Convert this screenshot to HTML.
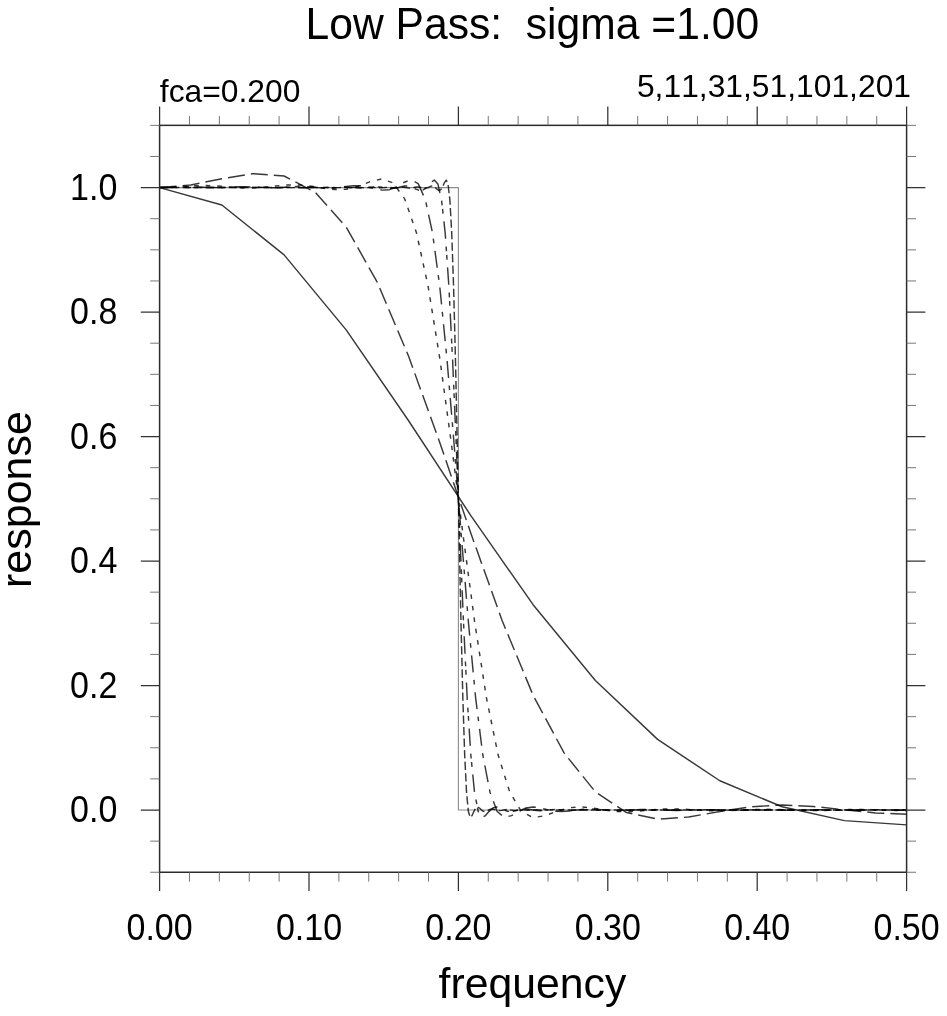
<!DOCTYPE html>
<html lang="en"><head><meta charset="utf-8"><title>Low Pass: sigma =1.00</title>
<style>html,body{margin:0;padding:0;background:#fff}svg{display:block}text{font-kerning:none;font-feature-settings:"kern" 0,"liga" 0}</style>
</head><body>
<svg width="947" height="1016" viewBox="0 0 947 1016">
<rect width="947" height="1016" fill="#fff"/>
<polyline fill="none" stroke-linejoin="round" stroke="#8c8c8c" stroke-width="1.1" points="159.60,187.59 458.40,187.59 458.40,810.01 906.60,810.01"/>
<g fill="none" stroke="#000" stroke-width="1.45" stroke-opacity="0.78" stroke-linejoin="round" stroke-linecap="butt">
<polyline points="159.60,187.59 221.85,205.04 284.10,254.90 346.35,330.15 408.60,420.76 470.85,515.63 533.10,604.69 595.35,680.57 657.60,739.40 719.85,780.77 782.10,806.79 844.35,820.60 906.60,824.87"/>
<polyline stroke-dasharray="17.039 6.043" points="159.60,187.59 190.72,184.95 221.85,178.72 252.97,173.60 284.10,175.99 315.23,192.35 346.35,227.38 377.48,282.70 408.60,356.23 439.73,442.42 470.85,533.32 501.98,620.19 533.10,695.26 564.23,753.17 595.35,791.85 626.48,812.54 657.60,819.16 688.73,817.03 719.85,811.51 750.98,806.76 782.10,805.02 813.23,806.47 844.35,809.77 875.48,812.91 906.60,814.17"/>
<polyline stroke-dasharray="4.576 6.964" points="159.60,187.59 171.27,187.27 182.94,186.51 194.62,185.78 206.29,185.55 217.96,186.01 229.63,186.91 241.30,187.70 252.97,187.85 264.65,187.15 276.32,185.93 287.99,184.93 299.66,184.91 311.33,186.16 323.01,188.15 334.68,189.65 346.35,189.27 358.02,186.35 369.69,181.90 381.37,179.05 393.04,182.80 404.71,198.94 416.38,232.48 428.05,285.90 439.73,358.02 451.40,443.76 463.07,535.00 474.74,622.43 486.41,697.60 498.08,754.82 509.76,792.21 521.43,811.61 533.10,817.57 544.77,815.77 556.44,811.38 568.12,807.90 579.79,806.81 591.46,807.83 603.13,809.77 614.80,811.34 626.48,811.81 638.15,811.18 649.82,810.04 661.49,809.09 673.16,808.81 684.83,809.23 696.51,810.02 708.18,810.70 719.85,810.91 731.52,810.59 743.19,809.99 754.87,809.45 766.54,809.28 778.21,809.52 789.88,810.03 801.55,810.49 813.23,810.65 824.90,810.44 836.57,810.00 848.24,809.58 859.91,809.42 871.58,809.60 883.26,810.01 894.93,810.42 906.60,810.58"/>
<polyline stroke-dasharray="17.014 7.506 4.704 7.706" points="159.60,187.59 166.78,187.47 173.97,187.19 181.15,186.91 188.33,186.81 195.51,186.95 202.70,187.26 209.88,187.54 217.06,187.63 224.24,187.45 231.43,187.11 238.61,186.80 245.79,186.73 252.97,186.95 260.16,187.36 267.34,187.71 274.52,187.77 281.71,187.47 288.89,186.95 296.07,186.53 303.25,186.49 310.44,186.92 317.62,187.63 324.80,188.18 331.98,188.18 339.17,187.50 346.35,186.44 353.53,185.64 360.72,185.74 367.90,186.96 375.08,188.82 382.26,190.15 389.45,189.67 396.63,186.78 403.81,182.46 410.99,179.76 418.18,183.59 425.36,199.69 432.54,233.08 439.73,286.32 446.91,358.29 454.09,443.97 461.27,535.24 468.46,622.70 475.64,697.86 482.82,755.01 490.00,792.26 497.19,811.52 504.37,817.41 511.55,815.64 518.73,811.35 525.92,807.99 533.10,806.96 540.28,807.96 547.47,809.80 554.65,811.25 561.83,811.65 569.01,811.06 576.20,810.02 583.38,809.18 590.56,808.97 597.74,809.36 604.93,810.04 612.11,810.60 619.29,810.74 626.48,810.46 633.66,809.97 640.84,809.56 648.02,809.46 655.21,809.67 662.39,810.05 669.57,810.36 676.75,810.45 683.94,810.28 691.12,809.97 698.30,809.72 705.48,809.64 712.67,809.78 719.85,810.04 727.03,810.26 734.22,810.32 741.40,810.21 748.58,809.99 755.76,809.79 762.95,809.73 770.13,809.83 777.31,810.03 784.49,810.20 791.68,810.26 798.86,810.17 806.04,810.00 813.23,809.83 820.41,809.77 827.59,809.85 834.77,810.02 841.96,810.17 849.14,810.23 856.32,810.16 863.50,810.00 870.69,809.85 877.87,809.79 885.05,809.86 892.23,810.01 899.42,810.16 906.60,810.22"/>
<polyline stroke-dasharray="17.431 7.764 4.809 3.606 4.809 7.744" points="159.60,187.59 163.26,187.56 166.92,187.49 170.59,187.41 174.25,187.39 177.91,187.42 181.57,187.49 185.23,187.57 188.89,187.59 192.56,187.56 196.22,187.48 199.88,187.41 203.54,187.38 207.20,187.42 210.86,187.50 214.53,187.58 218.19,187.60 221.85,187.56 225.51,187.47 229.17,187.39 232.84,187.37 236.50,187.42 240.16,187.51 243.82,187.60 247.48,187.62 251.14,187.56 254.81,187.46 258.47,187.37 262.13,187.35 265.79,187.41 269.45,187.53 273.11,187.63 276.78,187.64 280.44,187.57 284.10,187.44 287.76,187.33 291.42,187.31 295.09,187.40 298.75,187.55 302.41,187.67 306.07,187.69 309.73,187.58 313.39,187.41 317.06,187.27 320.72,187.25 324.38,187.38 328.04,187.59 331.70,187.76 335.36,187.77 339.03,187.61 342.69,187.35 346.35,187.14 350.01,187.13 353.67,187.35 357.34,187.68 361.00,187.94 364.66,187.95 368.32,187.65 371.98,187.20 375.64,186.86 379.31,186.87 382.97,187.30 386.63,187.94 390.29,188.42 393.95,188.37 397.61,187.71 401.28,186.71 404.94,185.97 408.60,186.11 412.26,187.32 415.92,189.12 419.59,190.39 423.25,189.87 426.91,186.99 430.57,182.73 434.23,180.09 437.89,183.95 441.56,200.03 445.22,233.36 448.88,286.51 452.54,358.43 456.20,444.07 459.86,535.35 463.53,622.83 467.19,697.99 470.85,755.09 474.51,792.28 478.17,811.48 481.84,817.34 485.50,815.58 489.16,811.34 492.82,808.03 496.48,807.03 500.14,808.02 503.81,809.81 507.47,811.21 511.13,811.59 514.79,811.00 518.45,810.01 522.11,809.23 525.78,809.03 529.44,809.42 533.10,810.05 536.76,810.56 540.42,810.67 544.09,810.40 547.75,809.96 551.41,809.60 555.07,809.53 558.73,809.73 562.39,810.06 566.06,810.32 569.72,810.38 573.38,810.22 577.04,809.96 580.70,809.76 584.36,809.72 588.03,809.84 591.69,810.05 595.35,810.21 599.01,810.25 602.67,810.15 606.34,809.98 610.00,809.84 613.66,809.81 617.32,809.89 620.98,810.04 624.64,810.15 628.31,810.18 631.97,810.11 635.63,809.98 639.29,809.88 642.95,809.86 646.61,809.92 650.28,810.03 653.94,810.12 657.60,810.14 661.26,810.08 664.92,809.99 668.59,809.91 672.25,809.89 675.91,809.94 679.57,810.02 683.23,810.10 686.89,810.11 690.56,810.07 694.22,809.99 697.88,809.93 701.54,809.91 705.20,809.95 708.86,810.02 712.53,810.08 716.19,810.10 719.85,810.06 723.51,810.00 727.17,809.94 730.84,809.93 734.50,809.96 738.16,810.02 741.82,810.07 745.48,810.09 749.14,810.06 752.81,810.00 756.47,809.95 760.13,809.94 763.79,809.96 767.45,810.02 771.11,810.06 774.78,810.08 778.44,810.05 782.10,810.00 785.76,809.96 789.42,809.94 793.09,809.97 796.75,810.01 800.41,810.06 804.07,810.07 807.73,810.05 811.39,810.00 815.06,809.96 818.72,809.95 822.38,809.97 826.04,810.01 829.70,810.05 833.36,810.07 837.03,810.05 840.69,810.01 844.35,809.97 848.01,809.95 851.67,809.97 855.34,810.01 859.00,810.05 862.66,810.07 866.32,810.05 869.98,810.01 873.64,809.97 877.31,809.95 880.97,809.97 884.63,810.01 888.29,810.05 891.95,810.06 895.61,810.05 899.28,810.01 902.94,809.97 906.60,809.95"/>
<polyline stroke-dasharray="8.293 3.247" points="159.60,187.59 161.45,187.58 163.30,187.56 165.15,187.55 167.00,187.54 168.85,187.55 170.69,187.57 172.54,187.58 174.39,187.59 176.24,187.58 178.09,187.56 179.94,187.55 181.79,187.54 183.64,187.55 185.49,187.57 187.34,187.59 189.18,187.59 191.03,187.58 192.88,187.56 194.73,187.54 196.58,187.54 198.43,187.55 200.28,187.57 202.13,187.59 203.98,187.59 205.83,187.58 207.67,187.56 209.52,187.54 211.37,187.54 213.22,187.55 215.07,187.57 216.92,187.59 218.77,187.59 220.62,187.58 222.47,187.56 224.32,187.54 226.16,187.53 228.01,187.55 229.86,187.57 231.71,187.59 233.56,187.60 235.41,187.58 237.26,187.56 239.11,187.54 240.96,187.53 242.81,187.55 244.65,187.57 246.50,187.59 248.35,187.60 250.20,187.58 252.05,187.56 253.90,187.54 255.75,187.53 257.60,187.55 259.45,187.57 261.30,187.60 263.14,187.60 264.99,187.59 266.84,187.56 268.69,187.53 270.54,187.53 272.39,187.54 274.24,187.57 276.09,187.60 277.94,187.61 279.79,187.59 281.63,187.55 283.48,187.53 285.33,187.52 287.18,187.54 289.03,187.58 290.88,187.61 292.73,187.61 294.58,187.59 296.43,187.55 298.28,187.52 300.12,187.52 301.97,187.54 303.82,187.58 305.67,187.61 307.52,187.62 309.37,187.59 311.22,187.55 313.07,187.51 314.92,187.51 316.77,187.54 318.61,187.58 320.46,187.62 322.31,187.63 324.16,187.60 326.01,187.54 327.86,187.50 329.71,187.50 331.56,187.53 333.41,187.59 335.26,187.64 337.10,187.64 338.95,187.60 340.80,187.54 342.65,187.48 344.50,187.48 346.35,187.53 348.20,187.60 350.05,187.66 351.90,187.66 353.75,187.61 355.60,187.53 357.44,187.46 359.29,187.45 361.14,187.52 362.99,187.61 364.84,187.69 366.69,187.69 368.54,187.62 370.39,187.51 372.24,187.42 374.09,187.42 375.93,187.50 377.78,187.63 379.63,187.74 381.48,187.74 383.33,187.64 385.18,187.48 387.03,187.36 388.88,187.35 390.73,187.48 392.58,187.68 394.42,187.82 396.27,187.83 398.12,187.66 399.97,187.42 401.82,187.23 403.67,187.23 405.52,187.45 407.37,187.77 409.22,188.01 411.07,188.00 412.91,187.71 414.76,187.28 416.61,186.95 418.46,186.97 420.31,187.39 422.16,188.02 424.01,188.48 425.86,188.43 427.71,187.76 429.56,186.78 431.40,186.06 433.25,186.21 435.10,187.42 436.95,189.20 438.80,190.45 440.65,189.92 442.50,187.05 444.35,182.80 446.20,180.18 448.05,184.05 449.89,200.13 451.74,233.43 453.59,286.57 455.44,358.46 457.29,444.10 459.14,535.38 460.99,622.86 462.84,698.02 464.69,755.12 466.54,792.29 468.38,811.47 470.23,817.32 472.08,815.57 473.93,811.33 475.78,808.04 477.63,807.05 479.48,808.03 481.33,809.81 483.18,811.20 485.03,811.57 486.87,810.99 488.72,810.00 490.57,809.24 492.42,809.05 494.27,809.43 496.12,810.06 497.97,810.54 499.82,810.65 501.67,810.39 503.52,809.95 505.36,809.61 507.21,809.54 509.06,809.74 510.91,810.06 512.76,810.31 514.61,810.36 516.46,810.21 518.31,809.96 520.16,809.77 522.01,809.73 523.85,809.86 525.70,810.05 527.55,810.20 529.40,810.23 531.25,810.13 533.10,809.97 534.95,809.85 536.80,809.83 538.65,809.91 540.50,810.04 542.35,810.14 544.19,810.16 546.04,810.09 547.89,809.98 549.74,809.89 551.59,809.88 553.44,809.94 555.29,810.03 557.14,810.11 558.99,810.12 560.84,810.07 562.68,809.99 564.53,809.92 566.38,809.91 568.23,809.96 570.08,810.03 571.93,810.08 573.78,810.09 575.63,810.06 577.48,809.99 579.33,809.94 581.17,809.93 583.02,809.97 584.87,810.02 586.72,810.07 588.57,810.08 590.42,810.05 592.27,809.99 594.12,809.95 595.97,809.95 597.82,809.97 599.66,810.02 601.51,810.06 603.36,810.07 605.21,810.04 607.06,810.00 608.91,809.96 610.76,809.96 612.61,809.98 614.46,810.02 616.31,810.05 618.15,810.06 620.00,810.03 621.85,810.00 623.70,809.97 625.55,809.96 627.40,809.98 629.25,810.02 631.10,810.04 632.95,810.05 634.80,810.03 636.64,810.00 638.49,809.98 640.34,809.97 642.19,809.99 644.04,810.02 645.89,810.04 647.74,810.04 649.59,810.03 651.44,810.00 653.29,809.98 655.13,809.97 656.98,809.99 658.83,810.01 660.68,810.04 662.53,810.04 664.38,810.03 666.23,810.00 668.08,809.98 669.93,809.98 671.78,809.99 673.62,810.01 675.47,810.03 677.32,810.04 679.17,810.02 681.02,810.00 682.87,809.99 684.72,809.98 686.57,809.99 688.42,810.01 690.27,810.03 692.11,810.03 693.96,810.02 695.81,810.00 697.66,809.99 699.51,809.98 701.36,809.99 703.21,810.01 705.06,810.03 706.91,810.03 708.76,810.02 710.60,810.00 712.45,809.99 714.30,809.99 716.15,809.99 718.00,810.01 719.85,810.03 721.70,810.03 723.55,810.02 725.40,810.01 727.25,809.99 729.10,809.99 730.94,810.00 732.79,810.01 734.64,810.02 736.49,810.03 738.34,810.02 740.19,810.01 742.04,809.99 743.89,809.99 745.74,810.00 747.59,810.01 749.43,810.02 751.28,810.03 753.13,810.02 754.98,810.01 756.83,809.99 758.68,809.99 760.53,810.00 762.38,810.01 764.23,810.02 766.08,810.03 767.92,810.02 769.77,810.01 771.62,809.99 773.47,809.99 775.32,810.00 777.17,810.01 779.02,810.02 780.87,810.03 782.72,810.02 784.57,810.01 786.41,810.00 788.26,809.99 790.11,810.00 791.96,810.01 793.81,810.02 795.66,810.02 797.51,810.02 799.36,810.01 801.21,810.00 803.06,809.99 804.90,810.00 806.75,810.01 808.60,810.02 810.45,810.02 812.30,810.02 814.15,810.01 816.00,810.00 817.85,809.99 819.70,810.00 821.55,810.01 823.39,810.02 825.24,810.02 827.09,810.02 828.94,810.01 830.79,810.00 832.64,809.99 834.49,810.00 836.34,810.01 838.19,810.02 840.04,810.02 841.88,810.02 843.73,810.01 845.58,810.00 847.43,809.99 849.28,810.00 851.13,810.01 852.98,810.02 854.83,810.02 856.68,810.02 858.53,810.01 860.37,810.00 862.22,809.99 864.07,810.00 865.92,810.01 867.77,810.02 869.62,810.02 871.47,810.02 873.32,810.01 875.17,810.00 877.02,809.99 878.86,810.00 880.71,810.01 882.56,810.02 884.41,810.02 886.26,810.02 888.11,810.01 889.96,810.00 891.81,809.99 893.66,810.00 895.51,810.01 897.35,810.02 899.20,810.02 901.05,810.02 902.90,810.01 904.75,810.00 906.60,809.99"/>
</g>
<g fill="none" stroke="#2b2b2b" stroke-width="1.5" stroke-linecap="butt">
<rect x="159.6" y="125.35" width="747.00" height="746.90"/>
<path stroke="#333" stroke-width="1.25" d="M159.60 872.25v18.8M159.60 125.35v-18.8M309.00 872.25v18.8M309.00 125.35v-18.8M458.40 872.25v18.8M458.40 125.35v-18.8M607.80 872.25v18.8M607.80 125.35v-18.8M757.20 872.25v18.8M757.20 125.35v-18.8M906.60 872.25v18.8M906.60 125.35v-18.8M159.6 810.01h-18.8M906.6 810.01h18.8M159.6 685.52h-18.8M906.6 685.52h18.8M159.6 561.04h-18.8M906.6 561.04h18.8M159.6 436.56h-18.8M906.6 436.56h18.8M159.6 312.07h-18.8M906.6 312.07h18.8M159.6 187.59h-18.8M906.6 187.59h18.8"/>
<path stroke="#707070" stroke-width="0.95" d="M189.48 872.25v9.4M189.48 125.35v-9.4M219.36 872.25v9.4M219.36 125.35v-9.4M249.24 872.25v9.4M249.24 125.35v-9.4M279.12 872.25v9.4M279.12 125.35v-9.4M338.88 872.25v9.4M338.88 125.35v-9.4M368.76 872.25v9.4M368.76 125.35v-9.4M398.64 872.25v9.4M398.64 125.35v-9.4M428.52 872.25v9.4M428.52 125.35v-9.4M488.28 872.25v9.4M488.28 125.35v-9.4M518.16 872.25v9.4M518.16 125.35v-9.4M548.04 872.25v9.4M548.04 125.35v-9.4M577.92 872.25v9.4M577.92 125.35v-9.4M637.68 872.25v9.4M637.68 125.35v-9.4M667.56 872.25v9.4M667.56 125.35v-9.4M697.44 872.25v9.4M697.44 125.35v-9.4M727.32 872.25v9.4M727.32 125.35v-9.4M787.08 872.25v9.4M787.08 125.35v-9.4M816.96 872.25v9.4M816.96 125.35v-9.4M846.84 872.25v9.4M846.84 125.35v-9.4M876.72 872.25v9.4M876.72 125.35v-9.4M159.6 872.25h-9.4M906.6 872.25h9.4M159.6 841.13h-9.4M906.6 841.13h9.4M159.6 778.89h-9.4M906.6 778.89h9.4M159.6 747.77h-9.4M906.6 747.77h9.4M159.6 716.65h-9.4M906.6 716.65h9.4M159.6 654.40h-9.4M906.6 654.40h9.4M159.6 623.28h-9.4M906.6 623.28h9.4M159.6 592.16h-9.4M906.6 592.16h9.4M159.6 529.92h-9.4M906.6 529.92h9.4M159.6 498.80h-9.4M906.6 498.80h9.4M159.6 467.68h-9.4M906.6 467.68h9.4M159.6 405.44h-9.4M906.6 405.44h9.4M159.6 374.32h-9.4M906.6 374.32h9.4M159.6 343.20h-9.4M906.6 343.20h9.4M159.6 280.95h-9.4M906.6 280.95h9.4M159.6 249.83h-9.4M906.6 249.83h9.4M159.6 218.71h-9.4M906.6 218.71h9.4M159.6 156.47h-9.4M906.6 156.47h9.4M159.6 125.35h-9.4M906.6 125.35h9.4"/>
</g>
<g fill="#000" font-family="'Liberation Sans', Arial, Helvetica, sans-serif">
<text transform="translate(532.35 39.4) scale(1 1.045)" font-size="42.63" text-anchor="middle" xml:space="preserve">Low Pass:  sigma =1.00</text>
<text x="159.8" y="102" font-size="31.8">fca=0.200</text>
<text x="911" y="97" font-size="31.8" text-anchor="end">5,11,31,51,101,201</text>
<text transform="translate(159.60 940.1) scale(1 1.062)" font-size="34.0" text-anchor="middle">0.00</text>
<text transform="translate(309.00 940.1) scale(1 1.062)" font-size="34.0" text-anchor="middle">0.10</text>
<text transform="translate(458.40 940.1) scale(1 1.062)" font-size="34.0" text-anchor="middle">0.20</text>
<text transform="translate(607.80 940.1) scale(1 1.062)" font-size="34.0" text-anchor="middle">0.30</text>
<text transform="translate(757.20 940.1) scale(1 1.062)" font-size="34.0" text-anchor="middle">0.40</text>
<text transform="translate(906.60 940.1) scale(1 1.062)" font-size="34.0" text-anchor="middle">0.50</text>
<text transform="translate(117.3 822.21) scale(1 1.062)" font-size="34.0" text-anchor="end">0.0</text>
<text transform="translate(117.3 697.73) scale(1 1.062)" font-size="34.0" text-anchor="end">0.2</text>
<text transform="translate(117.3 573.24) scale(1 1.062)" font-size="34.0" text-anchor="end">0.4</text>
<text transform="translate(117.3 448.76) scale(1 1.062)" font-size="34.0" text-anchor="end">0.6</text>
<text transform="translate(117.3 324.27) scale(1 1.062)" font-size="34.0" text-anchor="end">0.8</text>
<text transform="translate(117.3 199.79) scale(1 1.062)" font-size="34.0" text-anchor="end">1.0</text>
<text x="532.45" y="998.1" font-size="42.75" text-anchor="middle">frequency</text>
<text transform="translate(31.2 499.5) rotate(-90)" font-size="43.0" text-anchor="middle">response</text>
</g>
</svg>
</body></html>
